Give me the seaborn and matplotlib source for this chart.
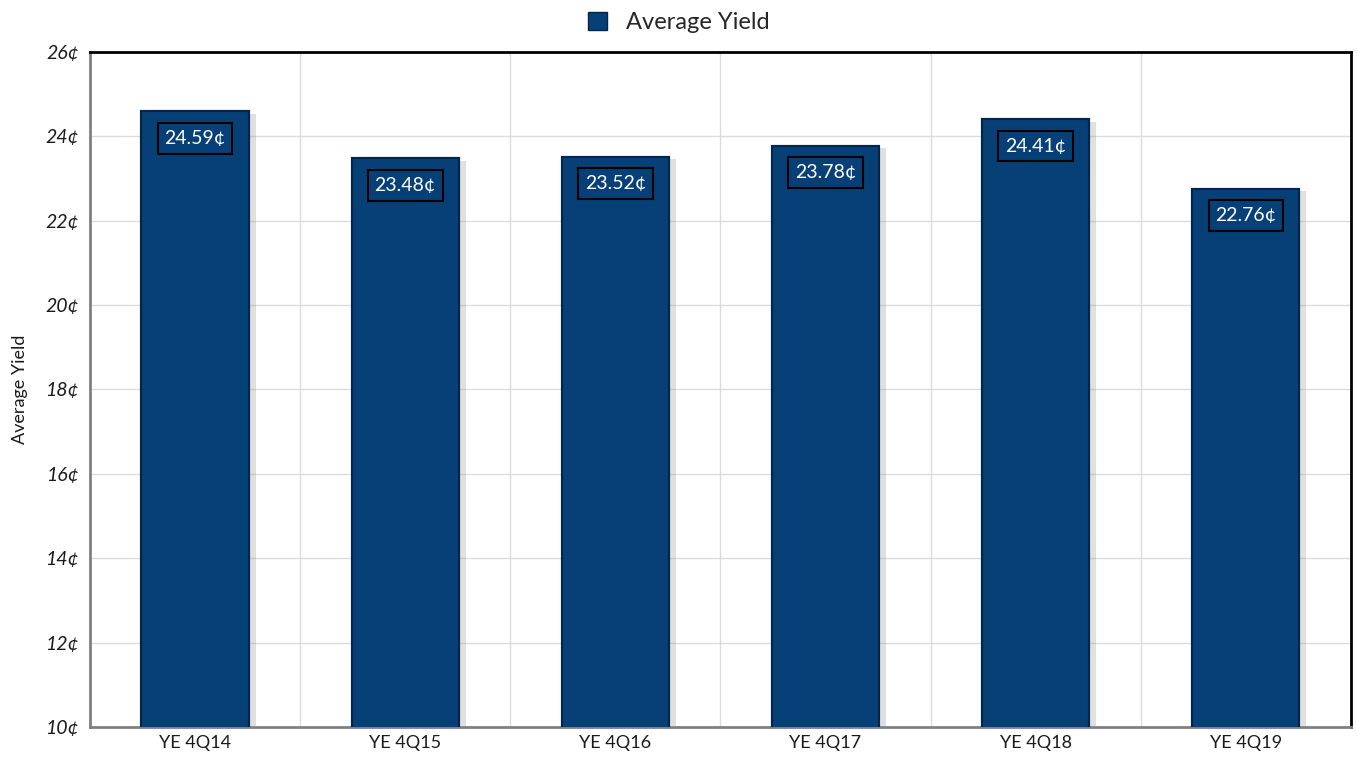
import numpy as np
import pandas as pd
import matplotlib
matplotlib.use("Agg")
import matplotlib.pyplot as plt
import matplotlib.patheffects as pe
from matplotlib.patches import Patch
import seaborn as sns

## data
periods = ["YE 4Q14", "YE 4Q15", "YE 4Q16", "YE 4Q17", "YE 4Q18", "YE 4Q19"]
avg_yield = [24.59, 23.48, 23.52, 23.78, 24.41, 22.76]
y_ticks = [10, 12, 14, 16, 18, 20, 22, 24, 26]

df = pd.DataFrame({"period": periods, "yield": avg_yield})

sns.set_theme(style="white")
plt.rcParams["font.family"] = ["Lato", "DejaVu Sans"]

bar_color = "#073F77"

fig = plt.figure(figsize=(13.57, 7.62), dpi=100)
ax = fig.add_axes([0.0663, 0.0459, 0.9292, 0.8859])

sns.barplot(data=df, x="period", y="yield", color=bar_color, width=0.51,
            saturation=1, edgecolor="#02264a", linewidth=1.5, ax=ax, zorder=3)

# soft drop shadow on the right of each bar
for p in ax.patches:
    p.set_path_effects([pe.withSimplePatchShadow(offset=(5, -2), shadow_rgbFace="#9a9a9a", alpha=0.3),
                        pe.Normal()])

ax.set_ylim(10, 26)
ax.set_xlim(-0.5, len(periods) - 0.5)
ax.set_yticks(y_ticks)
ax.set_yticklabels([f"{t}¢" for t in y_ticks], fontstyle="italic", fontsize=14, color="#1a1a1a")
ax.set_xticks(range(len(periods)))
ax.set_xticklabels(periods, fontsize=13, color="#1a1a1a")
ax.set_xticks(np.arange(-0.5, len(periods)), minor=True)

ax.tick_params(axis="x", which="major", length=0, pad=6)
ax.tick_params(axis="x", which="minor", length=6, color="#808080", width=1.2, direction="out")
ax.tick_params(axis="y", length=6, color="#808080", width=1.2, direction="inout", pad=5)

ax.grid(axis="y", color="#dcdcdc", linewidth=1, zorder=0)
ax.grid(axis="x", which="minor", color="#dcdcdc", linewidth=1, zorder=0)
ax.set_axisbelow(True)

for side in ["left", "bottom"]:
    ax.spines[side].set_color("#808080")
    ax.spines[side].set_linewidth(2)
for side in ["top", "right"]:
    ax.spines[side].set_color("black")
    ax.spines[side].set_linewidth(2)
for s in ax.spines.values():
    s.set_visible(True)

ax.set_xlabel("")
ax.set_ylabel("Average Yield", fontsize=13, labelpad=12, color="#1a1a1a")

for i, v in enumerate(avg_yield):
    ax.annotate(f"{v:.2f}¢", xy=(i, v), xytext=(0, -19.5), textcoords="offset points",
                ha="center", va="center", color="white", fontsize=14, zorder=5,
                bbox=dict(boxstyle="square,pad=0.35", fc=bar_color, ec="black", lw=1.5))

handle = Patch(facecolor=bar_color, edgecolor="#02264a")
fig.legend([handle], ["Average Yield"], loc="upper center", bbox_to_anchor=(0.5, 1.012),
           frameon=False, fontsize=17, handlelength=0.8, handleheight=0.8)

fig.savefig("out.png", dpi=100)
